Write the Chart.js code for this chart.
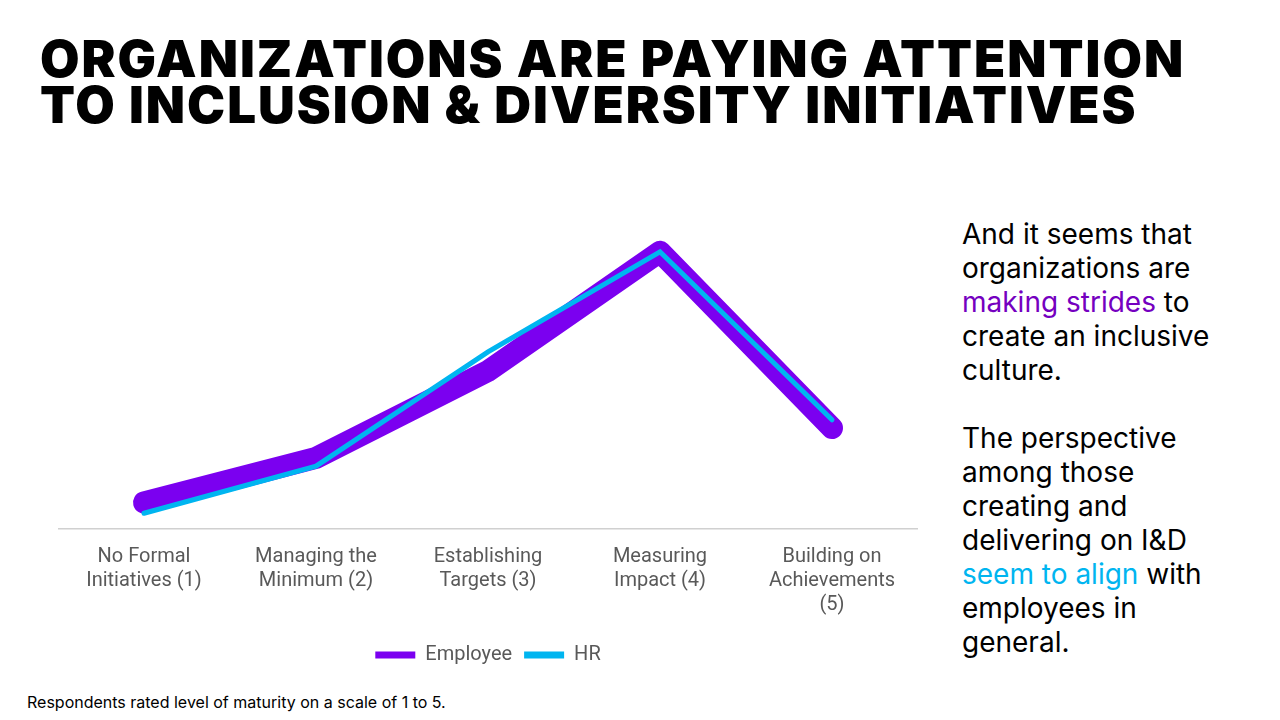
<!DOCTYPE html>
<html>
<head>
<meta charset="utf-8">
<script src="https://cdn.jsdelivr.net/npm/chart.js@4"></script>
<style>
  body { margin: 0; width: 1280px; height: 720px; background: #fff; font-family: Inter, "Noto Sans", sans-serif; position: relative; overflow: hidden; }
  h1 { position: absolute; left: 40px; top: 36px; margin: 0; font-size: 51px; line-height: 46px; font-weight: 900; letter-spacing: 2px; color: #000; }
  #chartBox { position: absolute; left: 58px; top: 180px; width: 860px; height: 495px; }
  .side { position: absolute; left: 962px; top: 217px; width: 262px; font-size: 28px; line-height: 34px; color: #000; }
  .side p { margin: 0 0 34px 0; }
  .purple { color: #7500c0; }
  .blue { color: #00b5f0; }
  .note { position: absolute; left: 27px; top: 692px; font-size: 16px; color: #000; }
</style>
</head>
<body>
<h1>ORGANIZATIONS ARE PAYING ATTENTION<br>TO INCLUSION &amp; DIVERSITY INITIATIVES</h1>
<div id="chartBox"><canvas id="grafica"></canvas></div>
<div class="side">
  <p>And it seems that organizations are <span class="purple">making strides</span> to create an inclusive culture.</p>
  <p>The perspective among those creating and delivering on I&amp;D <span class="blue">seem to align</span> with employees in general.</p>
</div>
<div class="note">Respondents rated level of maturity on a scale of 1 to 5.</div>
<script>
const categorias = [
    ['No Formal', 'Initiatives (1)'],
    ['Managing the', 'Minimum (2)'],
    ['Establishing', 'Targets (3)'],
    ['Measuring', 'Impact (4)'],
    ['Building on', 'Achievements', '(5)']
];
const valoresEmpleado = [3.2, 8.6, 19.1, 33.5, 12.2];
const valoresHR = [1.9, 7.6, 21.4, 33.5, 13.2];

new Chart(document.getElementById('grafica'), {
    type: 'line',
    data: {
        labels: categorias,
        datasets: [
            { label: 'Employee', order: 1, data: valoresEmpleado, borderColor: '#7b00f0', backgroundColor: '#7b00f0', borderWidth: 22, pointRadius: 0, borderCapStyle: 'round', borderJoinStyle: 'round', tension: 0 },
            { label: 'HR', order: 0, data: valoresHR, borderColor: '#00b5f0', backgroundColor: '#00b5f0', borderWidth: 5, pointRadius: 0, borderCapStyle: 'round', tension: 0 }
        ]
    },
    options: {
        responsive: true,
        maintainAspectRatio: false,
        animation: false,
        layout: { padding: { top: 18 } },
        plugins: {
            legend: {
                position: 'bottom',
                labels: {
                    usePointStyle: true,
                    pointStyle: 'line',
                    pointStyleWidth: 40,
                    font: { family: 'Roboto', size: 20 },
                    color: '#595959',
                    padding: 12,
                    generateLabels: chart => chart.data.datasets.map((ds, i) => ({
                        text: ds.label, strokeStyle: ds.borderColor, fillStyle: ds.borderColor,
                        lineWidth: 7, pointStyle: 'line', datasetIndex: i, fontColor: '#595959'
                    }))
                }
            },
            tooltip: { enabled: false }
        },
        scales: {
            x: {
                offset: true,
                grid: { display: false, drawTicks: false },
                border: { color: '#d0d0d0', width: 1.5 },
                ticks: { font: { family: 'Roboto', size: 20 }, color: '#595959', padding: 16, maxRotation: 0 }
            },
            y: { display: false, min: 0, max: 40 }
        }
    }
});
</script>
</body>
</html>
